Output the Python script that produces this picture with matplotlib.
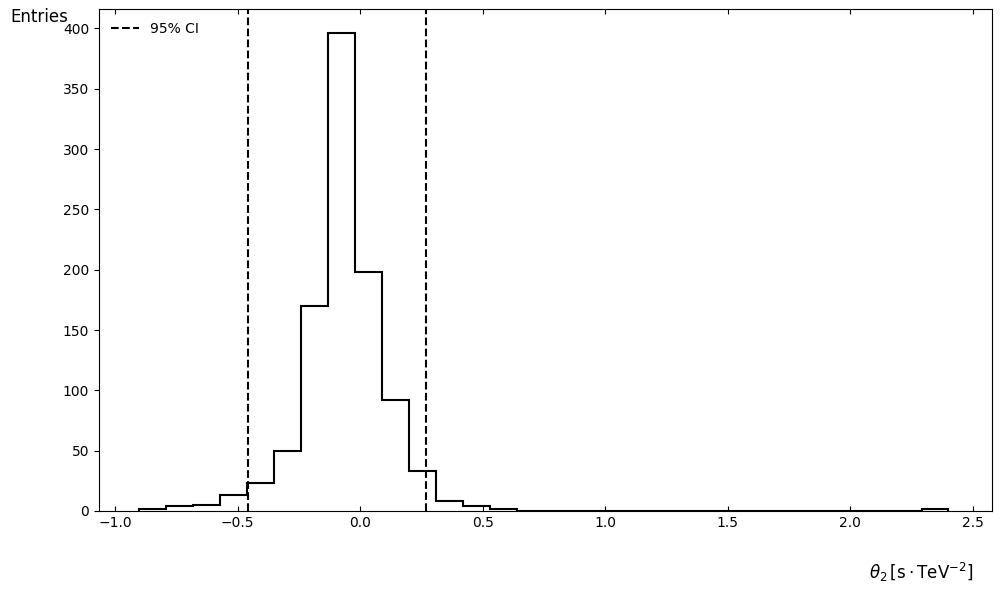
import matplotlib
matplotlib.use("Agg")
import matplotlib.pyplot as plt
import numpy as np

# histogram of theta_2 posterior samples
bin_edges = np.round(np.arange(-0.9, 2.4001, 0.11), 3)
counts = [2, 4, 5, 13, 23, 50, 170, 396, 198, 92, 33, 8, 4, 2,
          0, 0, 0, 0, 0, 0, 0, 0, 0, 0, 0, 0, 0, 0, 0, 2]
ci_low, ci_high = -0.457, 0.269

fig = plt.figure(figsize=(10.01, 5.93), dpi=100)
ax = fig.add_axes([0.0989, 0.1383, 0.8921, 0.8460])

ax.stairs(counts, bin_edges, color="black", linewidth=1.5)
ax.axvline(ci_low, color="black", linestyle="--", linewidth=1.5, label="95% CI")
ax.axvline(ci_high, color="black", linestyle="--", linewidth=1.5)

ax.set_xlim(-1.065, 2.5775)
ax.set_ylim(0, max(counts) * 1.05)

ax.tick_params(axis="x", direction="in", top=True)
ax.tick_params(axis="y", direction="out")

ax.legend(loc="upper left", frameon=False)

fig.text(0.010, 0.972, "Entries", fontsize=12, ha="left", va="center")
fig.text(0.972, 0.035, r"$\theta_2\,[\mathrm{s}\cdot\mathrm{TeV}^{-2}]$",
         fontsize=12, ha="right", va="center")

fig.savefig("out.png", dpi=100)
